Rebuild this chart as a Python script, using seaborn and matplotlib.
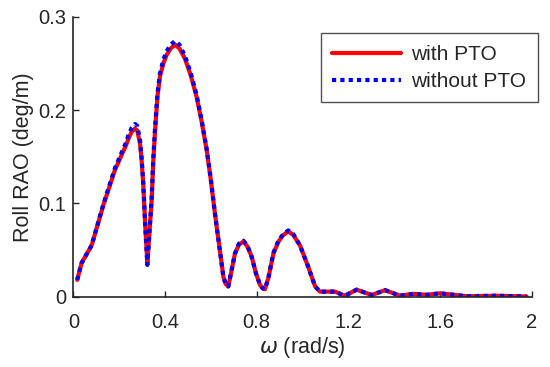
import numpy as np
import pandas as pd
import matplotlib
matplotlib.use("Agg")
import matplotlib.pyplot as plt
import seaborn as sns

omega = [0.017, 0.036, 0.08, 0.131, 0.182, 0.233, 0.24, 0.255, 0.269, 0.279,
         0.291, 0.298, 0.305, 0.314, 0.323, 0.332, 0.342, 0.349, 0.356, 0.367,
         0.378, 0.393, 0.407, 0.425, 0.444, 0.463, 0.487, 0.512, 0.538, 0.56,
         0.582, 0.6, 0.618, 0.637, 0.655, 0.665, 0.676, 0.688, 0.705, 0.723,
         0.742, 0.759, 0.778, 0.797, 0.815, 0.826, 0.836, 0.851, 0.873, 0.895,
         0.916, 0.938, 0.96, 0.989, 1.025, 1.055, 1.076, 1.142, 1.178, 1.193,
         1.236, 1.302, 1.36, 1.425, 1.483, 1.542, 1.6, 1.716, 1.847, 1.978]
with_pto = [0.018, 0.036, 0.055, 0.098, 0.136, 0.164, 0.169, 0.177, 0.180, 0.178,
            0.164, 0.146, 0.121, 0.075, 0.036, 0.068, 0.104, 0.146, 0.175, 0.214,
            0.236, 0.250, 0.259, 0.266, 0.270, 0.266, 0.255, 0.2375, 0.214, 0.1875,
            0.157, 0.125, 0.089, 0.054, 0.021, 0.0136, 0.011, 0.025, 0.046, 0.056,
            0.059, 0.054, 0.043, 0.025, 0.0125, 0.009, 0.008, 0.02, 0.046, 0.059,
            0.066, 0.070, 0.066, 0.055, 0.032, 0.011, 0.0054, 0.0054, 0.0015, 0.002,
            0.0075, 0.0018, 0.007, 0.0011, 0.003, 0.002, 0.0036, 0.0005, 0.001, 0.0002]
without_pto = [0.018, 0.036, 0.055, 0.099, 0.138, 0.167, 0.173, 0.181, 0.185, 0.183,
               0.168, 0.149, 0.123, 0.075, 0.034, 0.068, 0.106, 0.148, 0.178, 0.217,
               0.239, 0.254, 0.263, 0.270, 0.274, 0.270, 0.258, 0.240, 0.216, 0.189,
               0.158, 0.126, 0.089, 0.054, 0.021, 0.0136, 0.011, 0.025, 0.046, 0.057,
               0.060, 0.055, 0.043, 0.025, 0.0125, 0.009, 0.008, 0.02, 0.047, 0.060,
               0.067, 0.071, 0.067, 0.055, 0.032, 0.011, 0.0054, 0.0054, 0.0015, 0.002,
               0.0075, 0.0018, 0.007, 0.0011, 0.003, 0.002, 0.0036, 0.0005, 0.001, 0.0002]

x_ticks = [0, 0.4, 0.8, 1.2, 1.6, 2]
x_ticklabels = ["0", "0.4", "0.8", "1.2", "1.6", "2"]
y_ticks = [0, 0.1, 0.2, 0.3]
y_ticklabels = ["0", "0.1", "0.2", "0.3"]

sns.set_style("ticks")
plt.rcParams['font.family'] = ['Liberation Sans', 'DejaVu Sans']
plt.rcParams['mathtext.fontset'] = 'dejavusans'

fig = plt.figure(figsize=(5.5, 3.67), dpi=100)
ax = fig.add_axes([0.1333, 0.1916, 0.8334, 0.7629])

df = pd.DataFrame({"omega": omega, "with": with_pto, "without": without_pto})
sns.lineplot(data=df, x="omega", y="with", ax=ax, color="#ff0000", lw=3,
             label="with PTO", sort=False)
sns.lineplot(data=df, x="omega", y="without", ax=ax, color="#0000ff", lw=3,
             linestyle=(0, (1, 1)), label="without PTO", sort=False)

ax.set_xlim(0, 2)
ax.set_ylim(0, 0.3)
ax.set_xticks(x_ticks)
ax.set_xticklabels(x_ticklabels)
ax.set_yticks(y_ticks)
ax.set_yticklabels(y_ticklabels)
ax.tick_params(direction="in", labelsize=14.5, length=4, width=1, colors="#262626")
ax.tick_params(axis="x", pad=12)
ax.tick_params(axis="y", pad=5)
for s in ["top", "right"]:
    ax.spines[s].set_visible(False)
for s in ["left", "bottom"]:
    ax.spines[s].set_linewidth(1.2)
    ax.spines[s].set_color("#262626")
ax.set_xlabel(r"$\omega$ (rad/s)", fontsize=15.5, color="#262626", labelpad=2)
ax.set_ylabel("Roll RAO (deg/m)", fontsize=15.5, color="#262626", labelpad=3)

leg = ax.legend(loc="upper right", bbox_to_anchor=(1.0137, 0.94),
                borderaxespad=0, fontsize=15,
                frameon=True, fancybox=False, edgecolor="#262626",
                handlelength=3.3, borderpad=0.55, labelspacing=0.38,
                handletextpad=0.5)
leg.get_frame().set_linewidth(1.0)

fig.savefig("out.png", dpi=100)
